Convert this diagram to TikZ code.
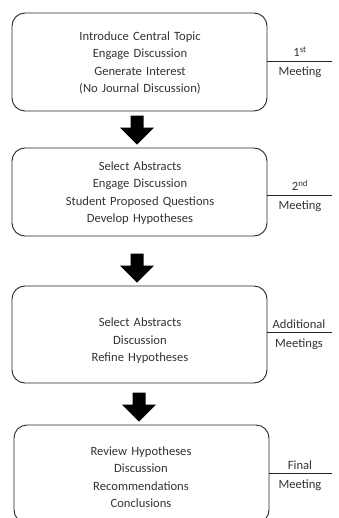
\documentclass[tikz,border=0pt]{standalone}
\usepackage{fontspec}
\setmainfont{Carlito}
\usetikzlibrary{calc}
\begin{document}
\begin{tikzpicture}[x=1pt,y=-1pt,
  box/.style={draw=black!85, line width=0.9pt, rounded corners=13pt, minimum width=255pt, inner sep=0pt},
  txt/.style={align=center, text width=255pt, font=\fontsize{12.6}{17.5}\selectfont, text=black!80, inner sep=0pt},
  side/.style={font=\fontsize{12.6}{14}\selectfont, text=black!80, inner sep=0pt},
  sline/.style={draw=black!85, line width=0.9pt},
  bigarrow/.style={fill=black, draw=none}]
\useasboundingbox (0,0) rectangle (338,518);
\begin{scope}
\clip (0,0) rectangle (338,518);
% boxes
\node[box, minimum height=98pt] (b1) at (139.5,62) {};
\node[box, minimum height=88pt] (b2) at (139.5,192) {};
\node[box, minimum height=97pt] (b3) at (139.5,334.5) {};
\node[box, minimum height=98pt] (b4) at (141.5,474) {};
% texts
\node[txt] (t1) at (140,63) {Introduce Central Topic\\Engage Discussion\\Generate Interest\\(No Journal Discussion)};
\node[txt] (t2) at (140,193) {Select Abstracts\\Engage Discussion\\Student Proposed Questions\\Develop Hypotheses};
\node[txt] (t3) at (140,341) {Select Abstracts\\Discussion\\Refine Hypotheses};
\node[txt] (t4) at (141,477) {Review Hypotheses\\Discussion\\Recommendations\\Conclusions};
% side lines
\coordinate (e1) at (332,61);
\coordinate (e2) at (332,195);
\coordinate (e3) at (332,332);
\coordinate (e4) at (332,473);
\draw[sline] (b1.east |- e1) -- (e1);
\draw[sline] (b2.east |- e2) -- (e2);
\draw[sline] (b3.east |- e3) -- (e3);
\draw[sline] (b4.east |- e4) -- (e4);
\node[side, anchor=base] (l1a) at (300,57) {1\textsuperscript{st}};
\node[side, anchor=base] (l1b) at (300,76) {Meeting};
\node[side, anchor=base] (l2a) at (300,191) {2\textsuperscript{nd}};
\node[side, anchor=base] (l2b) at (300,210) {Meeting};
\node[side, anchor=base] (l3a) at (299,328) {Additional};
\node[side, anchor=base] (l3b) at (299,347) {Meetings};
\node[side, anchor=base] (l4a) at (300,469) {Final};
\node[side, anchor=base] (l4b) at (300,488) {Meeting};
% arrows
\foreach \b in {b2,b3,b4}{
  \coordinate (tip) at ($(\b.north)+(-2.5,-3)$);
  \fill[bigarrow] ($(tip)+(-6.5,-29)$) -- ($(tip)+(6.5,-29)$) -- ($(tip)+(6.5,-17)$)
    -- ($(tip)+(17,-17)$) -- (tip) -- ($(tip)+(-17,-17)$) -- ($(tip)+(-6.5,-17)$) -- cycle;
}
\end{scope}
\end{tikzpicture}
\end{document}
